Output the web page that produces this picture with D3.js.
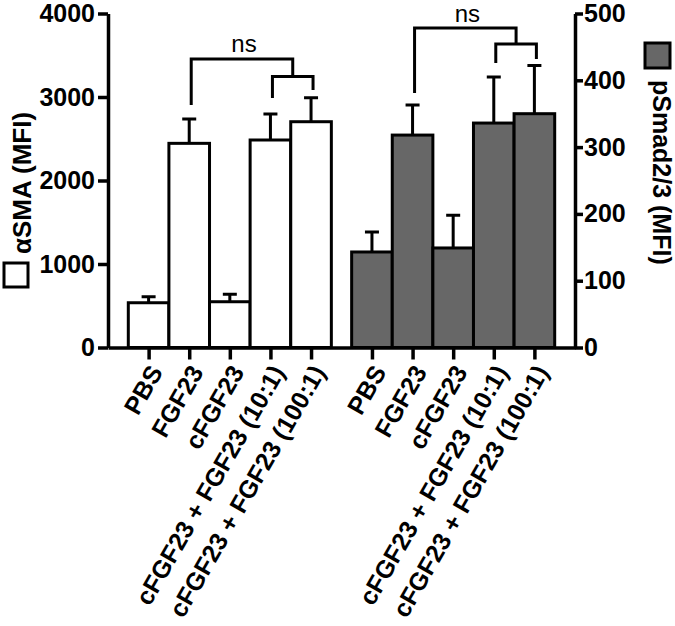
<!DOCTYPE html>
<head>
  <meta charset="utf-8">
  <script src="https://d3js.org/d3.v7.min.js"></script>
<style>
body { margin:0; background:#fff; }
text { font-family: "Liberation Sans", Arial, sans-serif; }
.axis path, .axis line { stroke:#000; stroke-width:3.5px; }
.axis text { font-size:25px; font-weight:bold; fill:#000; }
.bar { stroke:#000; stroke-width:3px; }
.err { stroke:#000; stroke-width:3px; fill:none; }
.brk { stroke:#000; stroke-width:3px; fill:none; }
</style>
</head>
<body>
<script>
// categories (same for both groups)
var categories = ["PBS", "FGF23", "cFGF23", "cFGF23 + FGF23 (10:1)", "cFGF23 + FGF23 (100:1)"];

// alpha-SMA (left axis) mean and SEM
var smaMean = [536, 2445, 548, 2485, 2704];
var smaSem  = [72, 292, 89, 311, 287];

// pSmad2/3 (right axis) mean and SEM
var smadMean = [143, 318, 149, 336, 350];
var smadSem  = [30, 45, 49, 69, 72];

var leftTicks = [0, 1000, 2000, 3000, 4000];
var rightTicks = [0, 100, 200, 300, 400, 500];

var W = 675, H = 626;
var x0 = 108, x1 = 575, yBase = 347.5, yTop = 13.5;

var svg = d3.select("body").append("svg")
    .attr("width", W)
    .attr("height", H);

// x positions: first group 0..4, second group shifted by 5.5
var x = d3.scaleLinear().domain([-1, 10.5]).range([x0, x1]);
var pos = function(g, i) { return i + g * 5.5; };
var bw = x(1) - x(0);

var yL = d3.scaleLinear().domain([0, 4000]).range([yBase, yTop]);
var yR = d3.scaleLinear().domain([0, 500]).range([yBase, yTop]);

var groups = [
  {mean: smaMean, sem: smaSem, y: yL, fill: "#fff"},
  {mean: smadMean, sem: smadSem, y: yR, fill: "#676767"}
];

// bars + error bars
groups.forEach(function(gr, g) {
  var gg = svg.append("g");
  gg.selectAll("rect").data(gr.mean).enter().append("rect")
      .attr("class", "bar")
      .attr("x", (d, i) => x(pos(g, i)) - bw / 2)
      .attr("width", bw)
      .attr("y", d => gr.y(d))
      .attr("height", d => yBase - gr.y(d))
      .attr("fill", gr.fill);
  gg.selectAll("path.err").data(gr.mean).enter().append("path")
      .attr("class", "err")
      .attr("d", (d, i) => {
        var cx = x(pos(g, i)), top = gr.y(d + gr.sem[i]);
        return "M" + cx + "," + gr.y(d) + "V" + top + "M" + (cx - 7) + "," + top + "H" + (cx + 7);
      });
});

// axes
var allPos = [];
groups.forEach((gr, g) => categories.forEach((c, i) => allPos.push(pos(g, i))));

var xAxis = svg.append("g")
    .attr("class", "axis")
    .attr("transform", "translate(0," + yBase + ")")
    .call(d3.axisBottom(x).tickValues(allPos).tickSize(12).tickSizeOuter(0)
      .tickFormat((d, i) => categories[i % categories.length]));
xAxis.selectAll("text")
    .style("font-size", "25px")
    .attr("text-anchor", "end")
    .attr("y", 0).attr("dy", "0.35em")
    .attr("transform", "translate(7,20) rotate(-60)");

svg.append("g")
    .attr("class", "axis")
    .attr("transform", "translate(" + x0 + ",0)")
    .call(d3.axisLeft(yL).tickValues(leftTicks).tickFormat(d3.format("d"))
      .tickSize(10).tickPadding(3).tickSizeOuter(0));

svg.append("g")
    .attr("class", "axis")
    .attr("transform", "translate(" + x1 + ",0)")
    .call(d3.axisRight(yR).tickValues(rightTicks).tickFormat(d3.format("d"))
      .tickSize(8).tickPadding(1).tickSizeOuter(0));

// significance brackets
function bracket(g, a, b, c, legA, legB, legC, lo, hi, ty) {
  // outer bracket from bar a to middle of small bracket (b,c)
  var xa = x(pos(g, a)) + 2, xb = x(pos(g, b)) + 2, xc = x(pos(g, c)) + 2;
  var mid = (xb + xc) / 2;
  svg.append("path").attr("class", "brk")
      .attr("d", "M" + xa + "," + legA + "V" + hi + "H" + mid + "V" + lo);
  svg.append("path").attr("class", "brk")
      .attr("d", "M" + xb + "," + legB + "V" + lo + "H" + xc + "V" + legC);
  svg.append("text")
      .attr("x", (xa + mid) / 2 + 2)
      .attr("y", ty)
      .attr("text-anchor", "middle")
      .style("font-size", "24px")
      .text("ns");
}
bracket(0, 1, 3, 4, 105, 98, 90, 76.5, 59, 52);
bracket(1, 1, 3, 4, 93, 63, 59, 44, 28, 22);

// axis titles with legend squares
svg.append("rect")
    .attr("x", 4).attr("y", 263).attr("width", 24).attr("height", 24)
    .attr("fill", "#fff").attr("stroke", "#000").attr("stroke-width", 3);
svg.append("text")
    .attr("transform", "translate(31,254) rotate(-90)")
    .style("font-size", "26px").style("font-weight", "bold")
    .text("\u03b1SMA (MFI)");

svg.append("rect")
    .attr("x", 645).attr("y", 43).attr("width", 25).attr("height", 25)
    .attr("fill", "#676767").attr("stroke", "#000").attr("stroke-width", 3);
svg.append("text")
    .attr("transform", "translate(653,80) rotate(90)")
    .style("font-size", "25px").style("font-weight", "bold")
    .text("pSmad2/3 (MFI)");
</script>
</body>
